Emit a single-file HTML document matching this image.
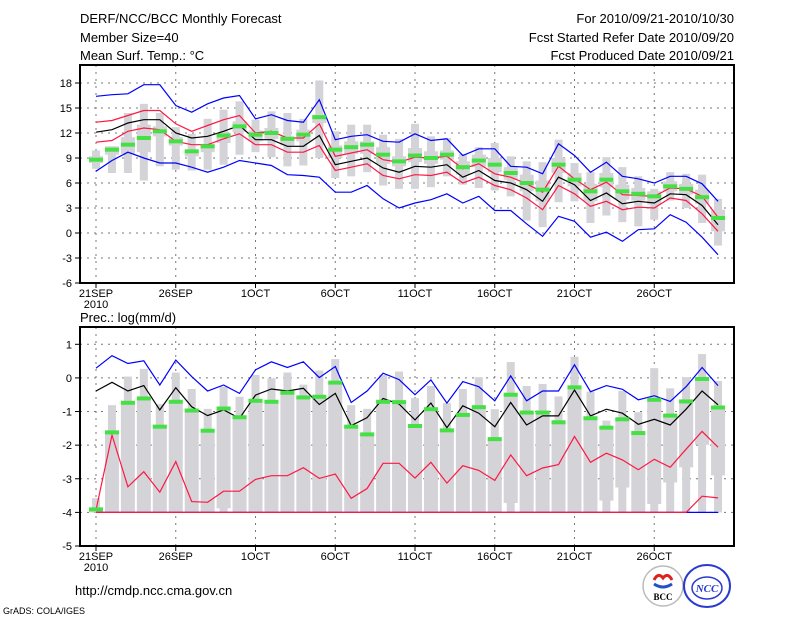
<!DOCTYPE html>
<html><head><meta charset="utf-8">
<style>
html,body{margin:0;padding:0;background:#fff;}
svg{display:block;font-family:"Liberation Sans",sans-serif;}
</style></head>
<body>
<svg id="chart" width="800" height="618" viewBox="0 0 800 618" xmlns="http://www.w3.org/2000/svg">
<rect width="800" height="618" fill="#fff"/>
<text x="80" y="23" font-size="13">DERF/NCC/BCC Monthly Forecast</text>
<text x="80" y="42" font-size="13">Member Size=40</text>
<text x="80" y="60" font-size="13">Mean Surf. Temp.: °C</text>
<text x="734" y="23" font-size="13" text-anchor="end">For 2010/09/21-2010/10/30</text>
<text x="734" y="42" font-size="13" text-anchor="end">Fcst Started Refer Date 2010/09/20</text>
<text x="734" y="60" font-size="13" text-anchor="end">Fcst Produced Date 2010/09/21</text>
<text x="80" y="322" font-size="13">Prec.: log(mm/d)</text>
<text x="75" y="595" font-size="13">http://cmdp.ncc.cma.gov.cn</text>
<text x="3" y="614" font-size="9">GrADS: COLA/IGES</text>
<g>
<circle cx="663" cy="586" r="20" fill="#fff" stroke="#bbb" stroke-width="1.5"/>
<path d="M654 580 q4 -8 9 -2 q5 -6 9 2" fill="none" stroke="#d22" stroke-width="3"/>
<path d="M654 584 q9 6 18 0" fill="none" stroke="#2250c8" stroke-width="3"/>
<text x="663" y="600" font-size="9" font-weight="bold" text-anchor="middle" font-family="Liberation Serif,serif">BCC</text>
</g>
<g>
<ellipse cx="707" cy="586" rx="23" ry="21" fill="#fff" stroke="#2a3ad0" stroke-width="2"/>
<ellipse cx="707" cy="588" rx="15" ry="11" fill="none" stroke="#2a3ad0" stroke-width="1.5"/>
<text x="707" y="592" font-size="11" font-weight="bold" font-style="italic" text-anchor="middle" fill="#2a3ad0" font-family="Liberation Serif,serif">NCC</text>
</g>
<g id="top"></g>
<g id="bot"></g>
</svg>
<script>
// ---------- Temperature data (40 days) ----------
const dayLabels = ["21SEP","26SEP","1OCT","6OCT","11OCT","16OCT","21OCT","26OCT"];
const dayLabelIdx = [0,5,10,15,20,25,30,35];
const tTicks = [18,15,12,9,6,3,0,-3,-6];
const tBlueHi = [16.4,16.6,16.7,17.8,17.8,15.3,14.5,15.5,16.2,16.5,13.7,14.2,13.5,13.3,16,11.2,11.6,11.8,11,10.9,11.9,11.1,11.3,9.3,10.1,10.1,8,7.9,7.1,10.7,9.3,7.3,8.5,6.8,6.5,6,6.8,6.8,5.9,3.8];
const tRedHi = [13.3,13.5,14.1,14.7,14.7,13.1,12.2,12.9,13.6,14.1,12,12.2,11.4,11.4,13.1,9.2,9.6,10,8.8,8.5,9.1,9,9.2,7.7,8.3,7.1,6.7,5.9,4.9,8,6.5,5.2,6.1,4.6,4.5,4.4,5.4,5.3,4.4,1.9];
const tBlack = [12.1,12.4,13.2,13.6,13.6,12,11.4,11.6,12.2,12.9,11.2,11.2,10.4,10.4,11.7,8.2,8.6,9,7.8,7.3,8,7.9,8.2,6.7,7.5,6.3,6,5.2,3.8,6.7,5.8,3.9,4.8,3.5,3.8,3.6,4.7,4.6,3.3,1];
const tRedLo = [10.9,11.1,12.2,12.6,12.4,11,10.6,10.6,11.3,11.9,10.6,10.6,9.7,9.7,10.5,7.5,7.9,8.3,6.9,6.5,7,6.9,7.3,6,6.7,5.7,5.2,4.2,2.8,5.7,4.7,3.2,3.8,2.8,3.1,3,4.2,3.9,2.3,0.2];
const tBlueLo = [7.4,8.7,9.7,9,8.4,8.4,7.9,7.3,7.9,8.7,8.4,8.1,7,6.9,6.7,4.9,4.9,5.7,4.1,3,3.6,4,4.7,3.6,4.4,2.7,2.7,1.1,-0.4,2,1.4,-0.5,0.1,-1,0.4,0.5,2.2,1.3,-0.5,-2.6];
const tMean = [8.8,10,10.6,11.4,12.2,11,9.8,10.4,11.7,12.8,11.8,12,11.3,11.8,13.9,10,10.3,10.6,9.4,8.6,9.3,9,9.4,7.9,8.7,8.2,7.2,6,5.2,8.2,6.4,5,6.4,5,4.7,4.4,5.6,5.3,4.3,1.8];
const tMax = [9.9,10.4,14.4,15.5,14.4,12.7,11.9,13.7,14.8,15.8,13.6,14.6,14.4,13.7,18.3,12.2,13,13,11.8,11.3,13.1,11.6,11.4,9.5,10.3,10.8,9.2,8.6,8.5,11.2,8.4,7.3,9.1,7.9,6.8,5.3,7.3,7.1,7,4.1];
const tMin = [7.7,7.2,7.2,6.3,8,7.6,7.5,7.6,8.2,9.4,9.7,9.1,8,8.1,9,6.6,6.8,7.3,5.7,5.3,5.3,5.5,6.8,5.8,5.4,5.1,4.4,1.5,0.7,3.7,3.8,1.2,2.1,1.3,0.8,1.6,3.9,3,1.2,-1.5];
const tQ3 = [9.2,10.4,11.5,13,12.8,11.5,10,10.7,12,13.4,12.3,12.6,11.6,12.4,14.2,10.5,11,11,10.3,9.2,10.2,9.8,9.9,8.6,9.4,9,7.9,7,6.3,9,7.2,5.9,7.2,5.8,5.4,5,6.2,5.9,5.2,2.8];
const tQ1 = [8.4,9.4,9.5,9.7,11.6,10.5,9.2,9.7,10.8,12.1,11,11.3,10.5,11,13.2,9,9.5,9.5,8.3,8,8.5,8.3,8.8,7,7.9,7.3,6.4,5,3.8,7.2,5.6,3.8,5.5,4,3.9,3.4,5,4.6,3.5,0.2];
// ---------- Precipitation data ----------
const pTicks = [1,0,-1,-2,-3,-4,-5];
const pBlueHi = [0.29,0.66,0.43,0.51,-0.21,0.53,0.04,-0.39,-0.21,-0.46,0.24,0.48,0.31,0.48,0.01,0.34,-0.73,-0.39,0.14,-0.05,-0.5,-0.06,-0.75,-0.11,-0.26,-0.68,0.06,-0.68,-0.39,-0.39,0.39,-0.41,-0.23,-0.34,-0.65,-0.53,-0.7,-0.26,0.31,-0.23];
const pBlack = [-0.39,-0.13,-0.39,-0.23,-0.95,-0.29,-0.86,-1.12,-0.95,-1.2,-0.51,-0.33,-0.39,-0.31,-0.79,-0.46,-1.42,-1.18,-0.61,-0.78,-1.25,-0.75,-1.48,-0.83,-1.05,-1.45,-0.73,-1.4,-1.13,-1.13,-0.36,-1.13,-0.93,-1.05,-1.38,-1.23,-1.4,-0.93,-0.39,-0.8];
const pRedHi = [-3.93,-1.7,-3.24,-2.79,-3.4,-2.49,-3.68,-3.7,-3.37,-3.37,-3.02,-2.91,-2.91,-2.67,-2.99,-2.86,-3.58,-3.29,-2.54,-2.54,-2.98,-2.51,-3.13,-2.61,-2.75,-3.05,-2.29,-2.91,-2.68,-2.58,-1.74,-2.51,-2.24,-2.44,-2.73,-2.42,-2.66,-2.12,-1.59,-2.06];
const pRedLo = [-4,-4,-4,-4,-4,-4,-4,-4,-4,-4,-4,-4,-4,-4,-4,-4,-4,-4,-4,-4,-4,-4,-4,-4,-4,-4,-4,-4,-4,-4,-4,-4,-4,-4,-4,-4,-4,-4,-3.52,-3.57];
const pBlueLo = [-4,-4,-4,-4,-4,-4,-4,-4,-4,-4,-4,-4,-4,-4,-4,-4,-4,-4,-4,-4,-4,-4,-4,-4,-4,-4,-4,-4,-4,-4,-4,-4,-4,-4,-4,-4,-4,-4,-4,-4];
const pMean = [-3.91,-1.62,-0.74,-0.61,-1.45,-0.71,-0.97,-1.57,-0.91,-1.17,-0.68,-0.71,-0.44,-0.58,-0.56,-0.14,-1.45,-1.68,-0.71,-0.72,-1.43,-0.93,-1.56,-1.1,-0.87,-1.82,-0.5,-1.03,-1.03,-1.32,-0.28,-1.2,-1.48,-1.23,-1.64,-0.65,-1.12,-0.7,-0.03,-0.88];
const pMax = [-3.58,-0.81,0.04,0.27,-0.78,0.16,-0.33,-0.92,-0.26,-0.56,0.09,-0.01,0.16,-0.2,0.22,0.56,-0.81,-0.92,0.09,0.19,-0.6,-0.24,-0.75,-0.33,0.02,-0.93,0.47,-0.24,-0.18,-0.55,0.63,-0.41,-1.27,-0.39,-1.02,0.29,-0.31,0.02,0.71,-0.09];
const pMin = [-4,-4,-4,-4,-4,-4,-4,-4,-4,-4,-4,-4,-4,-4,-4,-4,-4,-4,-4,-4,-4,-4,-4,-4,-4,-4,-4,-4,-4,-4,-4,-4,-4,-4,-4,-4,-4,-4,-4,-4];
const pQ3 = [-3.9,-1.6,-0.72,-0.58,-1.42,-0.7,-0.95,-1.55,-0.9,-1.15,-0.66,-0.7,-0.42,-0.56,-0.54,-0.12,-1.42,-1.65,-0.7,-0.7,-1.4,-0.9,-1.54,-1.08,-0.85,-1.8,-0.48,-1.0,-1.0,-1.3,-0.26,-1.18,-1.46,-1.2,-1.62,-0.62,-1.1,-0.68,-0.01,-0.86];
const pQ1 = [-4,-4,-4,-4,-4,-4,-4,-4,-3.88,-4,-4,-4,-4,-4,-4,-4,-4,-4,-4,-4,-4,-4,-4,-4,-4,-4,-3.72,-4,-4,-4,-4,-4,-3.65,-3.26,-4,-3.75,-3.11,-2.66,-1.99,-2.9];

const NS = "http://www.w3.org/2000/svg";
function mk(parent, tag, attrs){const e=document.createElementNS(NS,tag);for(const k in attrs)e.setAttribute(k,attrs[k]);parent.appendChild(e);return e;}
const X0=80, X1=734;
function xDay(d){return 96+d*15.95;}

function panel(gid, top, bottom, vmax, vmin, ticks, data){
  const g=document.getElementById(gid);
  const yv=v=>top+(vmax-v)/(vmax-vmin)*(bottom-top);
  ticks.forEach(t=>{
    if(t===vmin) return;
    const l=mk(g,'line',{x1:X0,x2:X1,y1:yv(t),y2:yv(t),stroke:'#777','stroke-dasharray':'2,5','stroke-width':1});
    
    
  });
  dayLabelIdx.forEach(d=>{
    const l=mk(g,'line',{x1:xDay(d),x2:xDay(d),y1:data.frameTop,y2:bottom,stroke:'#777','stroke-dasharray':'2,5','stroke-width':1});
    
    
  });
  for(let i=0;i<40;i++){
    const x=xDay(i);
    const w=mk(g,'rect',{x:x-4,y:yv(data.max[i]),width:8,height:Math.max(1,yv(data.min[i])-yv(data.max[i])),fill:'#d3d3d8'});
    
    
    const b=mk(g,'rect',{x:x-7,y:yv(data.q3[i]),width:14,height:Math.max(1,yv(data.q1[i])-yv(data.q3[i])),fill:'#d3d3d8'});
    
    
  }
  data.lines.forEach(([arr,col,name])=>{
    const p=mk(g,'polyline',{points:arr.map((v,i)=>xDay(i).toFixed(1)+','+yv(v).toFixed(1)).join(' '),fill:'none',stroke:col,'stroke-width':1.2});
    
    
  });
  for(let i=0;i<40;i++){
    const m=mk(g,'rect',{x:xDay(i)-7,y:yv(data.mean[i])-2,width:14,height:4,fill:'#44e044'});
    
    
  }
  const f=mk(g,'rect',{x:X0,y:data.frameTop,width:X1-X0,height:bottom-data.frameTop,fill:'none',stroke:'#000','stroke-width':2});
  
  
  ticks.forEach(t=>{
    const tk=mk(g,'line',{x1:X0-5,x2:X0,y1:yv(t),y2:yv(t),stroke:'#000'});
    
    
    const tx=mk(g,'text',{x:X0-8,y:yv(t)+4,'font-size':11,'text-anchor':'end'});
    tx.textContent=String(t);
    
    
  });
  dayLabelIdx.forEach((d,k)=>{
    const tk=mk(g,'line',{x1:xDay(d),x2:xDay(d),y1:bottom,y2:bottom+5,stroke:'#000'});
    
    
    const tx=mk(g,'text',{x:xDay(d),y:bottom+14,'font-size':11,'text-anchor':'middle'});
    tx.textContent=dayLabels[k];
    
    
  });
  const yr=mk(g,'text',{x:xDay(0),y:bottom+25,'font-size':11,'text-anchor':'middle'});
  yr.textContent='2010';
  
  
}
panel('top',83,283,18,-6,tTicks,{frameTop:65,max:tMax,min:tMin,q1:tQ1,q3:tQ3,mean:tMean,
  lines:[[tBlueHi,'#0000ff','temp-upper-blue-line'],[tRedHi,'#ff1744','temp-upper-red-line'],[tBlack,'#000','temp-median-line'],[tRedLo,'#ff1744','temp-lower-red-line'],[tBlueLo,'#0000ff','temp-lower-blue-line']]});
panel('bot',344.3,546,1,-5,pTicks,{frameTop:327,max:pMax,min:pMin,q1:pQ1,q3:pQ3,mean:pMean,
  lines:[[pBlueLo,'#0000ff','prec-lower-blue-line'],[pRedLo,'#ff1744','prec-lower-red-line'],[pBlueHi,'#0000ff','prec-upper-blue-line'],[pRedHi,'#ff1744','prec-upper-red-line'],[pBlack,'#000','prec-median-line']]});
</script>
</body></html>
